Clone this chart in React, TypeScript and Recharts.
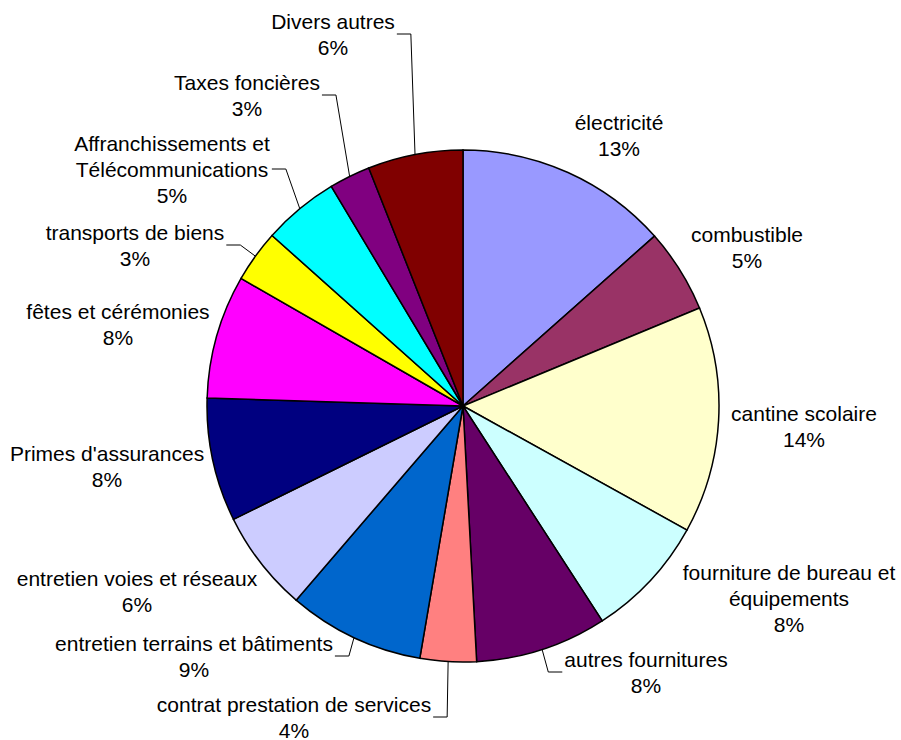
import { PieChart, Pie, Cell } from 'recharts';

// slices, clockwise from 12 o'clock
const categories = [
  'électricité',
  'combustible',
  'cantine scolaire',
  'fourniture de bureau et\néquipements',
  'autres fournitures',
  'contrat prestation de services',
  'entretien terrains et bâtiments',
  'entretien voies et réseaux',
  "Primes d'assurances",
  'fêtes et cérémonies',
  'transports de biens',
  'Affranchissements et\nTélécommunications',
  'Taxes foncières',
  'Divers autres',
];
const values = [13.45, 5.3, 14.3, 7.8, 8.3, 3.55, 8.6, 6.4, 7.8, 7.8, 3.3, 4.8, 2.6, 6.0];
const colors = [
  '#9999FF', '#993366', '#FFFFCC', '#CCFFFF', '#660066', '#FF8080', '#0066CC',
  '#CCCCFF', '#000080', '#FF00FF', '#FFFF00', '#00FFFF', '#800080', '#800000',
];

// label box centre relative to pie centre, and which side the leader line leaves from
const labelLayout = [
  { dx: 156, dy: -271, leader: null },
  { dx: 284, dy: -159, leader: null },
  { dx: 341, dy: 20, leader: null },
  { dx: 326, dy: 192, leader: null },
  { dx: 183, dy: 266, leader: 'left' },
  { dx: -169, dy: 311, leader: 'right' },
  { dx: -269, dy: 250, leader: 'right' },
  { dx: -326, dy: 185, leader: null },
  { dx: -356, dy: 60, leader: null },
  { dx: -345, dy: -82, leader: null },
  { dx: -328, dy: -161, leader: 'right' },
  { dx: -291, dy: -237, leader: 'right' },
  { dx: -216, dy: -311, leader: 'right' },
  { dx: -130, dy: -372, leader: 'right' },
];

const data = categories.map((name, i) => ({ name, value: values[i] }));

const FONT = '"Liberation Sans", Arial, sans-serif';
const FONT_SIZE = 21;
const LINE_H = 26;
const RAD = Math.PI / 180;

let ctx: CanvasRenderingContext2D | null = null;
const measure = (t: string) => {
  if (!ctx) {
    ctx = document.createElement('canvas').getContext('2d');
    if (ctx) ctx.font = `${FONT_SIZE}px "Liberation Sans"`;
  }
  return ctx ? ctx.measureText(t).width : t.length * FONT_SIZE * 0.5;
};

const renderLabel = (props: any) => {
  const { cx, cy, midAngle, outerRadius, percent, index } = props;
  const lay = labelLayout[index];
  const lines = [...categories[index].split('\n'), `${Math.round(percent * 100)}%`];
  const lx = cx + lay.dx;
  const ly = cy + lay.dy;
  const first = ly - (lines.length - 1) * (LINE_H / 2) + 7.5;

  let leader = null;
  if (lay.leader) {
    const w = Math.max(...lines.map(measure));
    const edge = lay.leader === 'right' ? lx + w / 2 + 2 : lx - w / 2 - 2;
    const elbow = lay.leader === 'right' ? edge + 14 : edge - 14;
    const ax = cx + outerRadius * Math.cos(-midAngle * RAD);
    const ay = cy + outerRadius * Math.sin(-midAngle * RAD);
    leader = (
      <polyline
        points={`${edge},${ly} ${elbow},${ly} ${ax},${ay}`}
        fill='none'
        stroke='#000'
        strokeWidth={1}
      />
    );
  }

  return (
    <g key={`lbl-${index}`}>
      {leader}
      <text textAnchor='middle' fill='#000' fontFamily={FONT} fontSize={FONT_SIZE}>
        {lines.map((t, i) => (
          <tspan key={i} x={lx} y={first + i * LINE_H}>{t}</tspan>
        ))}
      </text>
    </g>
  );
};

export default function App() {
  return (
    <div style={{ position: 'absolute', left: 0, top: 0, background: '#fff' }}>
      <PieChart width={901} height={740} margin={{ top: 0, right: 0, bottom: 0, left: 0 }}>
        <Pie
          data={data}
          dataKey='value'
          nameKey='name'
          cx={463}
          cy={406}
          outerRadius={256}
          startAngle={90}
          endAngle={-270}
          stroke='#000'
          strokeWidth={1.5}
          label={renderLabel}
          labelLine={false}
          isAnimationActive={false}
        >
          {data.map((d, i) => (
            <Cell key={d.name} fill={colors[i]} />
          ))}
        </Pie>
      </PieChart>
    </div>
  );
}
